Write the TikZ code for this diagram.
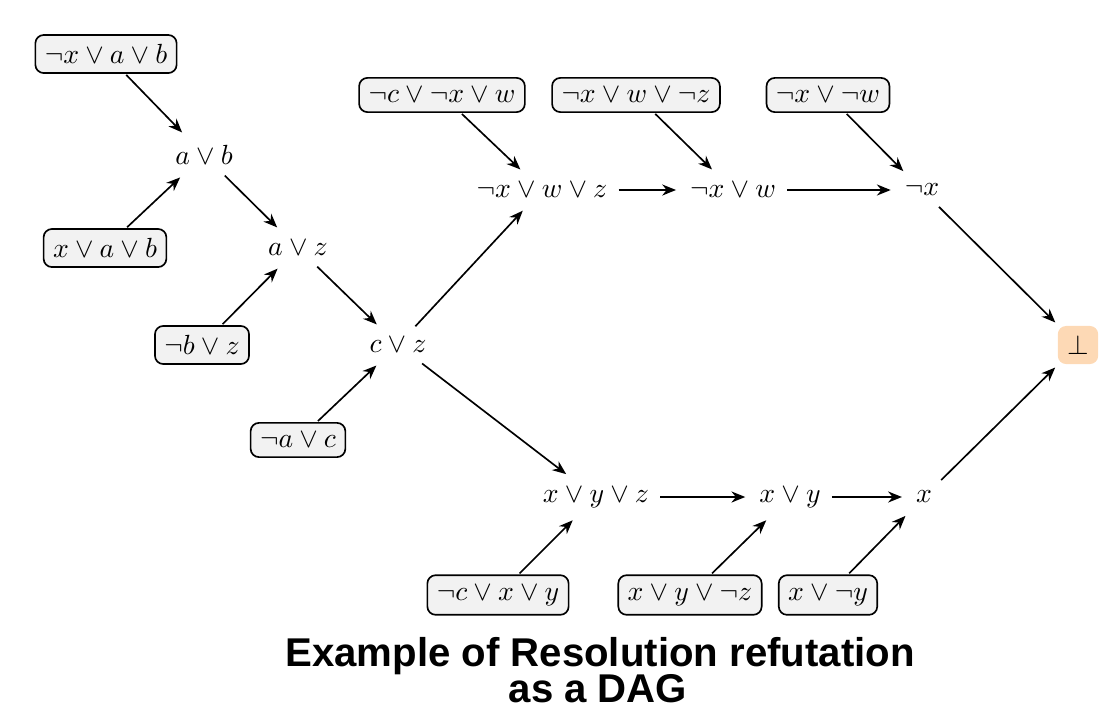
\documentclass[tikz,border=0pt]{standalone}
\usepackage{fontspec}
\newfontfamily\titlefont{Liberation Sans}
\usetikzlibrary{arrows.meta}
\definecolor{boxgray}{RGB}{242,242,242}
\definecolor{peach}{RGB}{253,217,181}
\begin{document}
\begin{tikzpicture}[x=0.361pt,y=-0.361pt,
  clause/.style={draw=black,fill=boxgray,rounded corners=3pt,line width=0.6pt,inner sep=3.4pt},
  plain/.style={inner sep=3.4pt},
  goal/.style={fill=peach,rounded corners=3pt,inner sep=3.4pt},
  edge/.style={-{Stealth[length=5pt,width=4pt]},line width=0.6pt,shorten >=1.5pt,shorten <=0.5pt},
  ttl/.style={font=\titlefont\bfseries\fontsize{14.5}{14}\selectfont,anchor=base}]
\useasboundingbox (0,0) rectangle (1100,710);

\node[clause] (c1) at (106,54) {$\neg x \vee a \vee b$};
\node[plain] (ab) at (204,155) {$a \vee b$};
\node[clause] (c2) at (105,248) {$x \vee a \vee b$};
\node[plain] (az) at (298,248) {$a \vee z$};
\node[clause] (c3) at (202,345) {$\neg b \vee z$};
\node[plain] (cz) at (398,345) {$c \vee z$};
\node[clause] (c4) at (298,440) {$\neg a \vee c$};

\node[clause] (c5) at (442,95) {$\neg c \vee \neg x \vee w$};
\node[clause] (c6) at (636,95) {$\neg x \vee w \vee \neg z$};
\node[clause] (c7) at (828,95) {$\neg x \vee \neg w$};
\node[plain] (xwz) at (542,190) {$\neg x \vee w \vee z$};
\node[plain] (xw) at (733,190) {$\neg x \vee w$};
\node[plain] (nx) at (922,190) {$\neg x$};

\node[goal] (bot) at (1078,345) {$\bot$};

\node[plain] (xyz) at (596,497) {$x \vee y \vee z$};
\node[plain] (xy) at (790,497) {$x \vee y$};
\node[plain] (x) at (924,497) {$x$};
\node[clause] (c8) at (498,595) {$\neg c \vee x \vee y$};
\node[clause] (c9) at (690,595) {$x \vee y \vee \neg z$};
\node[clause] (c10) at (828,595) {$x \vee \neg y$};

\draw[edge] (c1) -- (ab);
\draw[edge] (c2) -- (ab);
\draw[edge] (ab) -- (az);
\draw[edge] (c3) -- (az);
\draw[edge] (az) -- (cz);
\draw[edge] (c4) -- (cz);
\draw[edge] (cz) -- (xwz);
\draw[edge] (cz) -- (xyz);
\draw[edge] (c5) -- (xwz);
\draw[edge] (xwz) -- (xw);
\draw[edge] (c6) -- (xw);
\draw[edge] (xw) -- (nx);
\draw[edge] (c7) -- (nx);
\draw[edge] (nx) -- (bot);
\draw[edge] (xyz) -- (xy);
\draw[edge] (c8) -- (xyz);
\draw[edge] (c9) -- (xy);
\draw[edge] (xy) -- (x);
\draw[edge] (c10) -- (x);
\draw[edge] (x) -- (bot);

\node[ttl] (t1) at (600,666) {Example of Resolution refutation};
\node[ttl] (t2) at (598,702) {as a DAG};
\end{tikzpicture}
\end{document}
